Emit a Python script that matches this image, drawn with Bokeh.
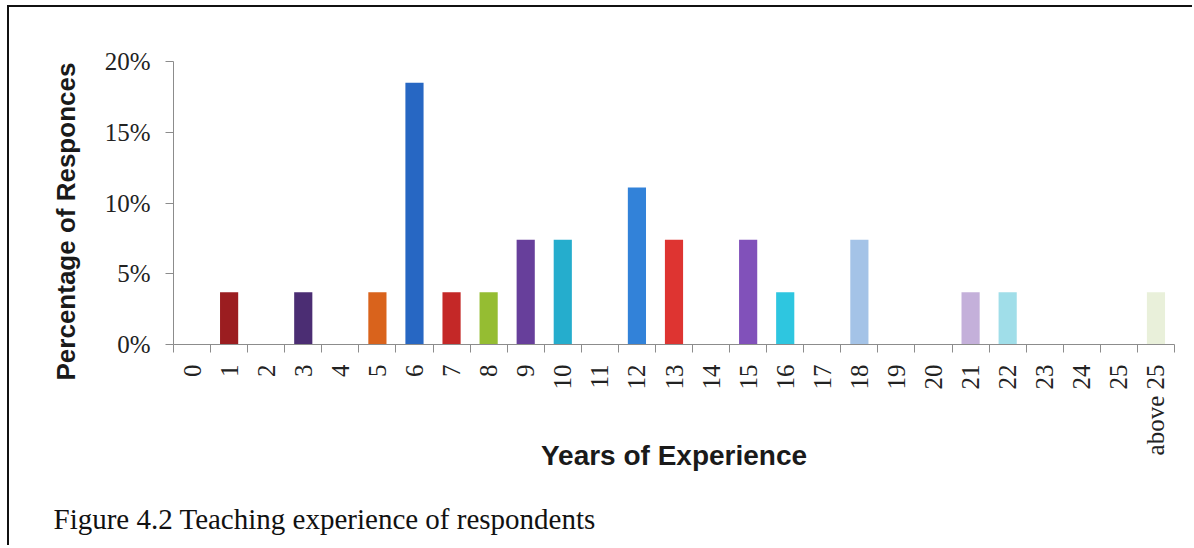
import numpy as np
from bokeh.plotting import figure
from bokeh.models import (Range1d, LinearAxis, FixedTicker, PrintfTickFormatter,
                          ColumnDataSource, Title)
from bokeh.embed import file_html
from bokeh.resources import INLINE

# ---- data ----
categories = ["0", "1", "2", "3", "4", "5", "6", "7", "8", "9", "10", "11", "12",
              "13", "14", "15", "16", "17", "18", "19", "20", "21", "22", "23",
              "24", "25", "above 25"]
percent = [0, 3.7, 0, 3.7, 0, 3.7, 18.5, 3.7, 3.7, 7.4, 7.4, 0, 11.1,
           7.4, 0, 7.4, 3.7, 0, 7.4, 0, 0, 3.7, 3.7, 0,
           0, 0, 3.7]
bar_colors = ["#ffffff", "#9B1D20", "#ffffff", "#4B2D73", "#ffffff", "#D9631C",
              "#2767C3", "#C42827", "#95BD32", "#673F9B", "#25ADCD", "#ffffff",
              "#3282D9", "#DE3431", "#ffffff", "#8151BA", "#2EC6E0", "#ffffff",
              "#A4C3E7", "#ffffff", "#ffffff", "#C4B0DA", "#A0DEE9", "#ffffff",
              "#ffffff", "#ffffff", "#E9F0DA"]
y_ticks = [0, 5, 10, 15, 20]

x_title = "Years of Experience"
y_title = "Percentage of Responces"
caption = "Figure 4.2  Teaching experience of respondents"

SERIF = "Liberation Serif"
SANS = "Liberation Sans"
AXIS_GREY = "#8c8c8c"

W, H = 1185, 540

n = len(categories)
centres = [i + 0.5 for i in range(n)]      # category slots on the x scale
bounds = list(range(n + 1))                # slot boundaries (tick marks)

source = ColumnDataSource(dict(x=centres, cat=categories, pct=percent,
                               color=bar_colors))

p = figure(width=W, height=H,
           x_range=Range1d(0, n), y_range=Range1d(0, 20),
           output_backend="svg", toolbar_location=None,
           x_axis_location=None, y_axis_location=None)
p.min_border_left = 164
p.min_border_right = 20
p.min_border_top = 54
p.min_border_bottom = 203
p.outline_line_color = None
p.xgrid.visible = False
p.ygrid.visible = False
p.background_fill_color = "white"
p.border_fill_color = "white"
p.styles = {"margin-left": "7px", "margin-top": "5px",
            "border-left": "2px solid #111111", "border-top": "2px solid #111111"}

p.vbar(x="x", top="pct", width=0.49, fill_color="color", line_color=None,
       source=source)

# y axis
yaxis = LinearAxis(ticker=FixedTicker(ticks=y_ticks, minor_ticks=[]),
                   formatter=PrintfTickFormatter(format="%d%%"))
yaxis.axis_line_color = AXIS_GREY
yaxis.major_tick_line_color = AXIS_GREY
yaxis.major_tick_out = 8
yaxis.major_tick_in = 0
yaxis.minor_tick_line_color = None
yaxis.major_label_text_font = SERIF
yaxis.major_label_text_font_size = "25px"
yaxis.major_label_text_color = "#222222"
yaxis.major_label_standoff = 15
p.add_layout(yaxis, "left")

# y title, placed beside the y axis and started below the frame like the original
p.add_layout(Title(text=y_title, align="left", offset=-36, standoff=42,
                   vertical_align="bottom", text_font=SANS, text_font_size="26px",
                   text_font_style="bold", text_color="#1a1a1a"), "left")

# x axis: labels at category centres, tick marks at category boundaries
xaxis = LinearAxis(ticker=FixedTicker(ticks=centres, minor_ticks=bounds))
xaxis.major_label_overrides = {c: lab for c, lab in zip(centres, categories)}
xaxis.axis_line_color = AXIS_GREY
xaxis.major_tick_out = 0
xaxis.major_tick_in = 0
xaxis.major_tick_line_color = None
xaxis.minor_tick_line_color = AXIS_GREY
xaxis.minor_tick_out = 8
xaxis.minor_tick_in = 0
xaxis.major_label_orientation = np.pi / 2
xaxis.major_label_text_font = SERIF
xaxis.major_label_text_font_size = "25px"
xaxis.major_label_text_color = "#222222"
xaxis.major_label_standoff = 12
xaxis.axis_label = x_title
xaxis.axis_label_text_font = SANS
xaxis.axis_label_text_font_style = "bold"
xaxis.axis_label_text_font_size = "28px"
xaxis.axis_label_text_color = "#1a1a1a"
xaxis.axis_label_standoff = -18
p.add_layout(xaxis, "below")

# invisible axis used only as vertical spacing before the caption
spacer = LinearAxis(ticker=FixedTicker(ticks=[centres[0]], minor_ticks=[]))
spacer.major_label_overrides = {centres[0]: ""}
spacer.axis_line_color = None
spacer.major_tick_line_color = None
spacer.minor_tick_line_color = None
spacer.major_tick_out = 23
spacer.major_tick_in = 0
spacer.minor_tick_out = 0
spacer.major_label_standoff = 5
p.add_layout(spacer, "below")

# caption below the chart
p.add_layout(Title(text=caption, align="left", offset=-120, standoff=10,
                   vertical_align="top", text_font=SERIF, text_font_size="29px",
                   text_font_style="normal", text_color="#111111"), "below")

open("out.html", "w").write(file_html(p, INLINE))
